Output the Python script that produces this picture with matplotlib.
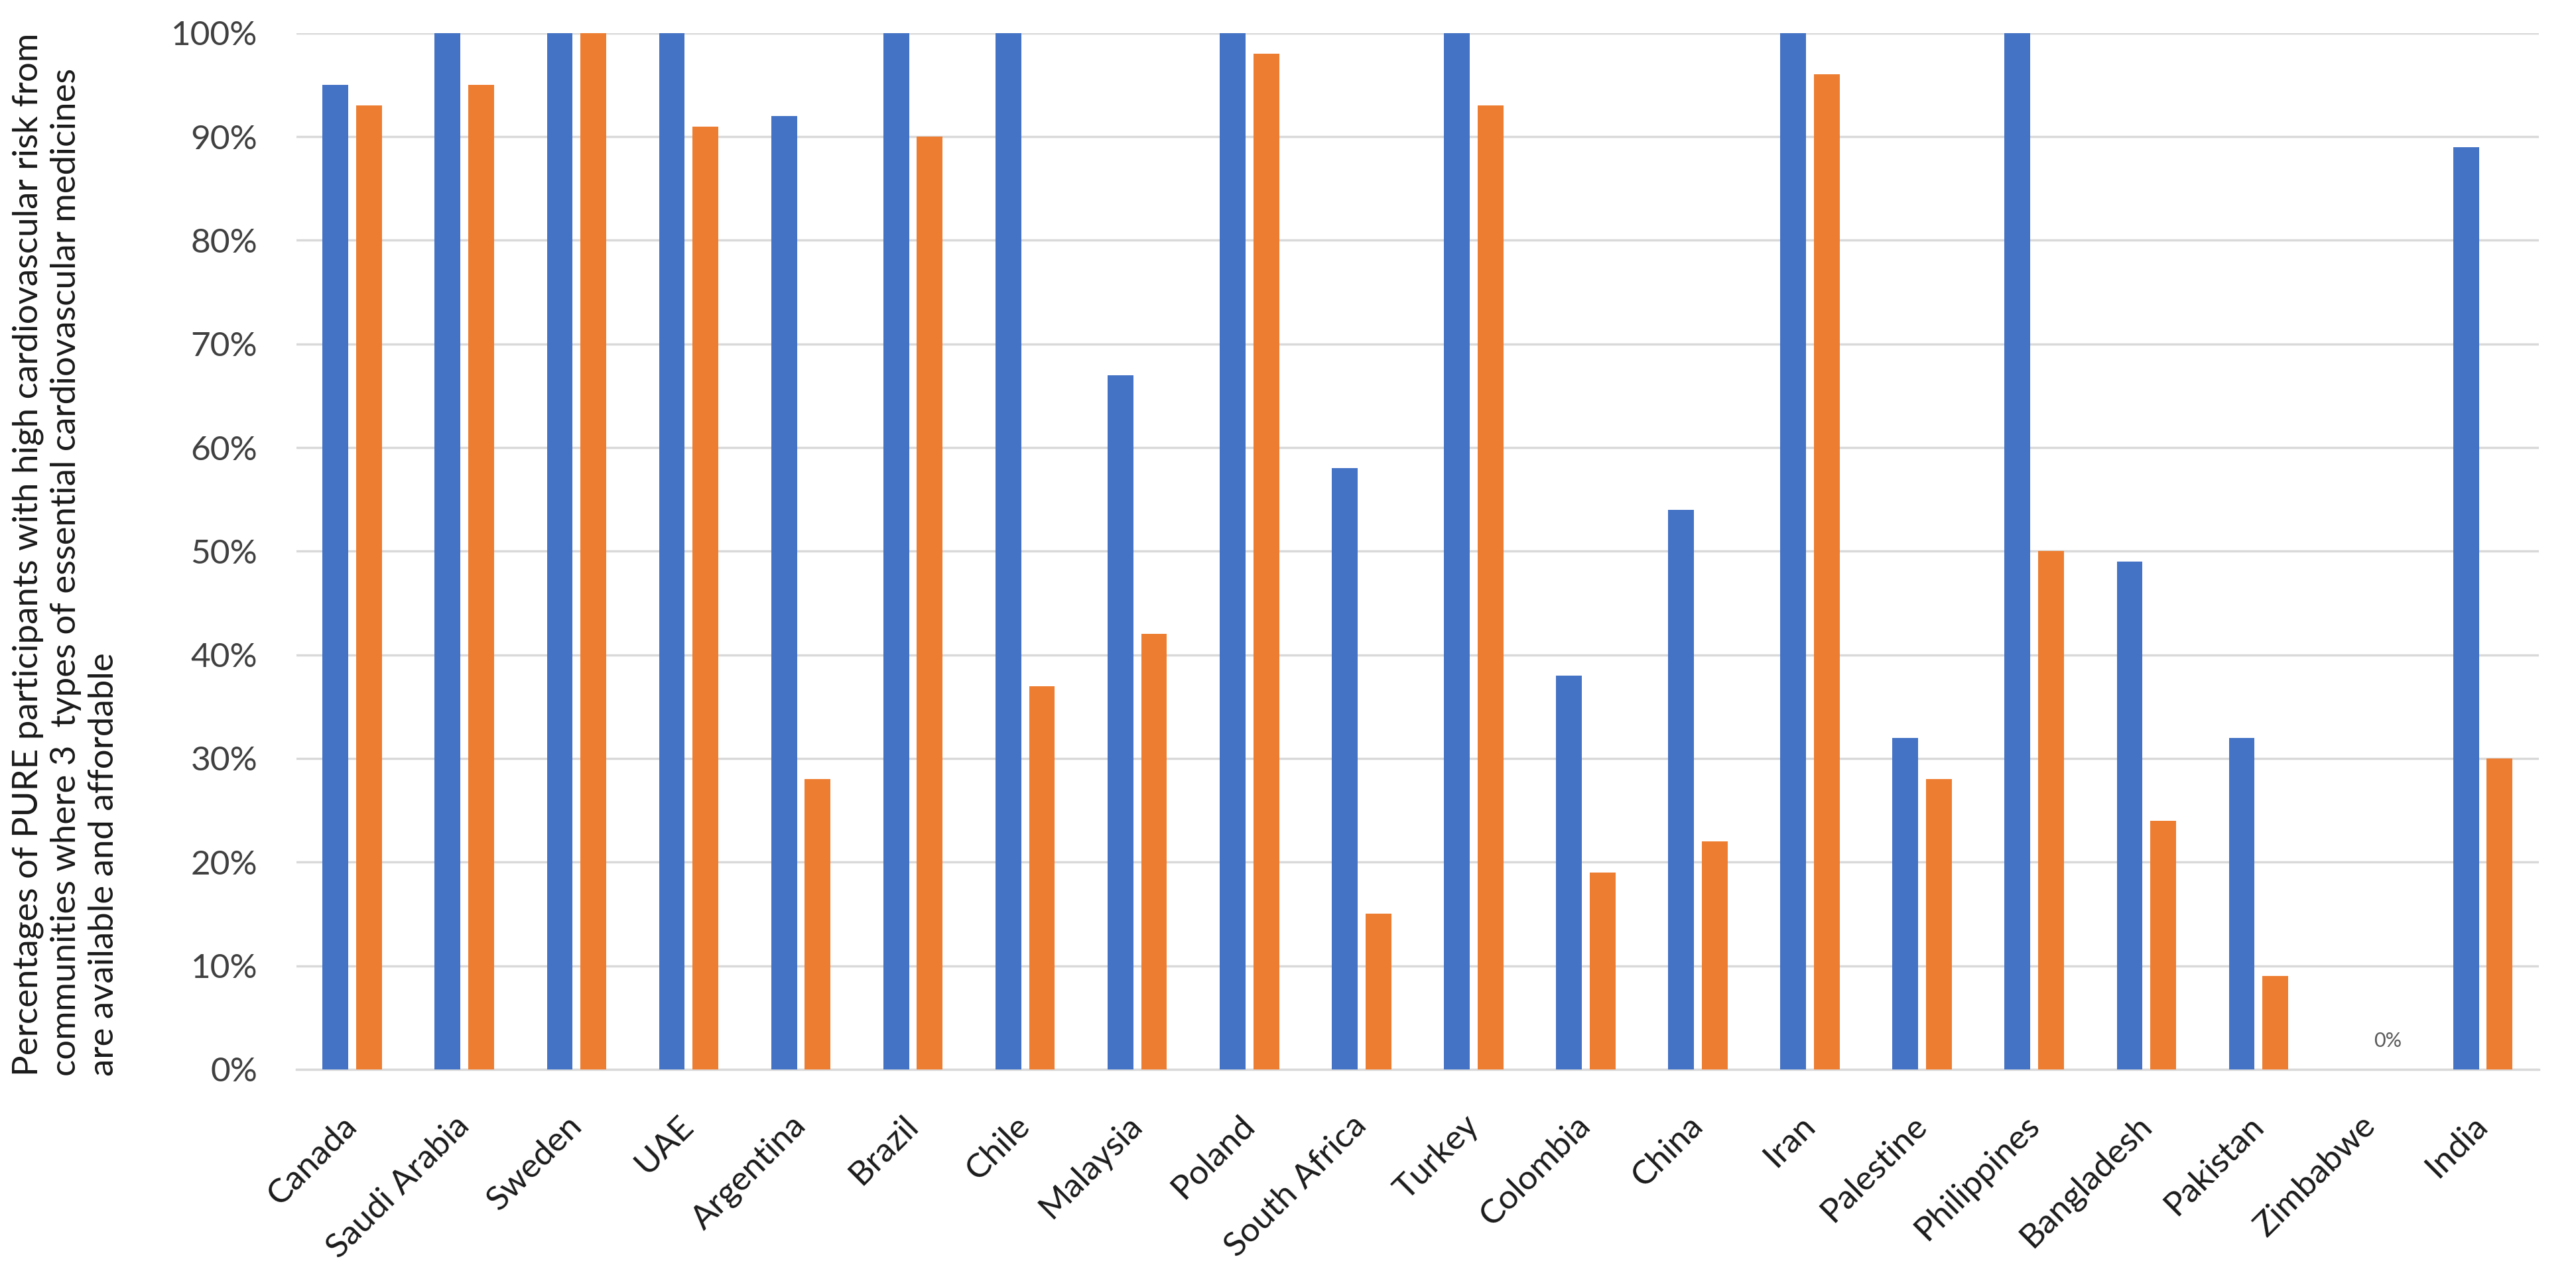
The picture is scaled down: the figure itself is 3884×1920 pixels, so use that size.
import numpy as np
import matplotlib
matplotlib.use('Agg')
import matplotlib.pyplot as plt
from matplotlib.ticker import PercentFormatter
from matplotlib.transforms import ScaledTranslation

# data
countries = ['Canada', 'Saudi Arabia', 'Sweden', 'UAE', 'Argentina', 'Brazil', 'Chile',
             'Malaysia', 'Poland', 'South Africa', 'Turkey', 'Colombia', 'China', 'Iran',
             'Palestine', 'Philippines', 'Bangladesh', 'Pakistan', 'Zimbabwe', 'India']
available = [95, 100, 100, 100, 92, 100, 100, 67, 100, 58, 100, 38, 54, 100, 32, 100, 49, 32, 0, 89]
affordable = [93, 95, 100, 91, 28, 90, 37, 42, 98, 15, 93, 19, 22, 96, 28, 50, 24, 9, 0, 30]
yticks = [0, 10, 20, 30, 40, 50, 60, 70, 80, 90, 100]

blue = '#4472C4'
orange = '#ED7D31'
font = ['Lato', 'DejaVu Sans']

fig = plt.figure(figsize=(38.84, 19.2), dpi=100)
ax = fig.add_axes([0.115, 0.16, 0.8706, 0.814])

x = np.arange(len(countries))
w = 0.23
ax.bar(x - 0.15, available, w, color=blue, zorder=3)
ax.bar(x + 0.15, affordable, w, color=orange, zorder=3)

# the lone data label on Zimbabwe
zi = countries.index('Zimbabwe')
ax.annotate(f'{affordable[zi]}%', (x[zi] + 0.15, affordable[zi]), xytext=(0, 31), textcoords='offset points',
            ha='center', va='center', fontsize=22, color='#595959', family=font)

ax.set_xlim(-0.5, len(countries) - 0.5)
ax.set_ylim(0, 100)
ax.set_yticks(yticks)
ax.yaxis.set_major_formatter(PercentFormatter(decimals=0))
ax.set_xticks(x)
ax.set_xticklabels(countries, rotation=45, ha='right', va='center', rotation_mode='anchor',
                   fontsize=37, family=font, color='#1a1a1a')
shift = ScaledTranslation(0.15, 0, fig.dpi_scale_trans)
for lab in ax.get_xticklabels():
    lab.set_transform(lab.get_transform() + shift)
for lab in ax.get_yticklabels():
    lab.set_fontsize(37)
    lab.set_family(font)
    lab.set_color('#404040')
ax.tick_params(length=0)
ax.tick_params(axis='y', pad=42)
ax.tick_params(axis='x', pad=56)

ax.grid(axis='y', color='#d9d9d9', linewidth=2.5, zorder=0)
for s in ['top', 'right', 'left']:
    ax.spines[s].set_visible(False)
ax.spines['bottom'].set_color('#d9d9d9')
ax.spines['bottom'].set_linewidth(2.5)

fig.text(18 / 3884, 1 - 1623 / 1920,
         'Percentages of PURE participants with high cardiovascular risk from\n'
         'communities where 3  types of essential cardiovascular medicines\n'
         'are available and affordable',
         rotation=90, ha='left', va='bottom', multialignment='left',
         fontsize=38, linespacing=1.27, family=font, color='#1a1a1a')

fig.savefig('out.png', dpi=100, facecolor='white')
